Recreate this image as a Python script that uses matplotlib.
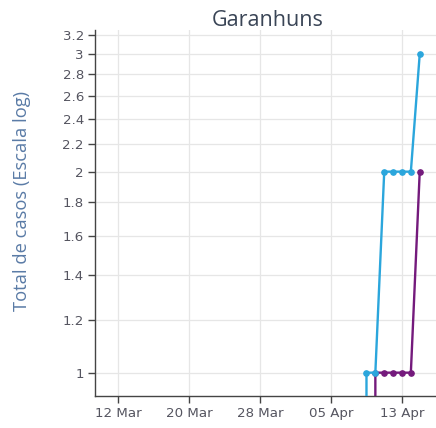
import numpy as np
import pandas as pd
import matplotlib.pyplot as plt
import matplotlib.dates as mdates
from matplotlib.ticker import FixedLocator, NullLocator

plt.rcParams['font.family'] = ['Open Sans', 'DejaVu Sans']

# Daily totals for Garanhuns (zeros fall off the log axis)
dates_a = pd.to_datetime(["2020-04-08", "2020-04-09", "2020-04-10", "2020-04-11",
                          "2020-04-12", "2020-04-13", "2020-04-14", "2020-04-15"])
cases_a = [0, 1, 1, 2, 2, 2, 2, 3]

dates_b = pd.to_datetime(["2020-04-09", "2020-04-10", "2020-04-11", "2020-04-12",
                          "2020-04-13", "2020-04-14", "2020-04-15"])
cases_b = [0, 1, 1, 1, 1, 1, 2]

y_ticks = [1, 1.2, 1.4, 1.6, 1.8, 2, 2.2, 2.4, 2.6, 2.8, 3, 3.2]
x_ticks = pd.to_datetime(["2020-03-12", "2020-03-20", "2020-03-28", "2020-04-05", "2020-04-13"])

fig = plt.figure(figsize=(4.36, 4.28), dpi=100)
ax = fig.add_axes([0.218, 0.075, 0.782, 0.855])

ax.plot(dates_a, cases_a, color="#2ba6dc", lw=1.7, marker="o", ms=3.8, zorder=3)
ax.plot(dates_b, cases_b, color="#741a7c", lw=1.7, marker="o", ms=3.8, zorder=2)

ax.set_yscale("log", nonpositive="clip")
ax.set_ylim(0.923, 3.26)
ax.set_xlim(pd.Timestamp("2020-03-09 10:00"), pd.Timestamp("2020-04-16 20:00"))

ax.yaxis.set_major_locator(FixedLocator(y_ticks))
ax.yaxis.set_minor_locator(NullLocator())
ax.set_yticklabels([f"{t:g}" for t in y_ticks])
ax.xaxis.set_major_locator(FixedLocator(mdates.date2num(x_ticks)))
ax.xaxis.set_major_formatter(mdates.DateFormatter("%d %b"))

ax.grid(True, color="#e6e6e6", lw=0.9)
ax.set_axisbelow(True)
for side in ["top", "right"]:
    ax.spines[side].set_visible(False)
for side in ["left", "bottom"]:
    ax.spines[side].set_color("#444444")
    ax.spines[side].set_linewidth(1)

ax.tick_params(axis="both", colors="#444444", labelcolor="#555560",
               labelsize=9.6, length=5, width=1, pad=3)
for lbl in ax.get_xticklabels() + ax.get_yticklabels():
    lbl.set_family("DejaVu Sans")

fig.text(22 / 436, 1 - 201 / 428, "Total de casos (Escala log)", rotation=90,
         ha="center", va="center", color="#5a7ba6", fontsize=13.2)
fig.text(268 / 436, 1 - 20 / 428, "Garanhuns", ha="center", va="center",
         color="#3a4556", fontsize=15.5)

fig.savefig("out.png", dpi=100)
